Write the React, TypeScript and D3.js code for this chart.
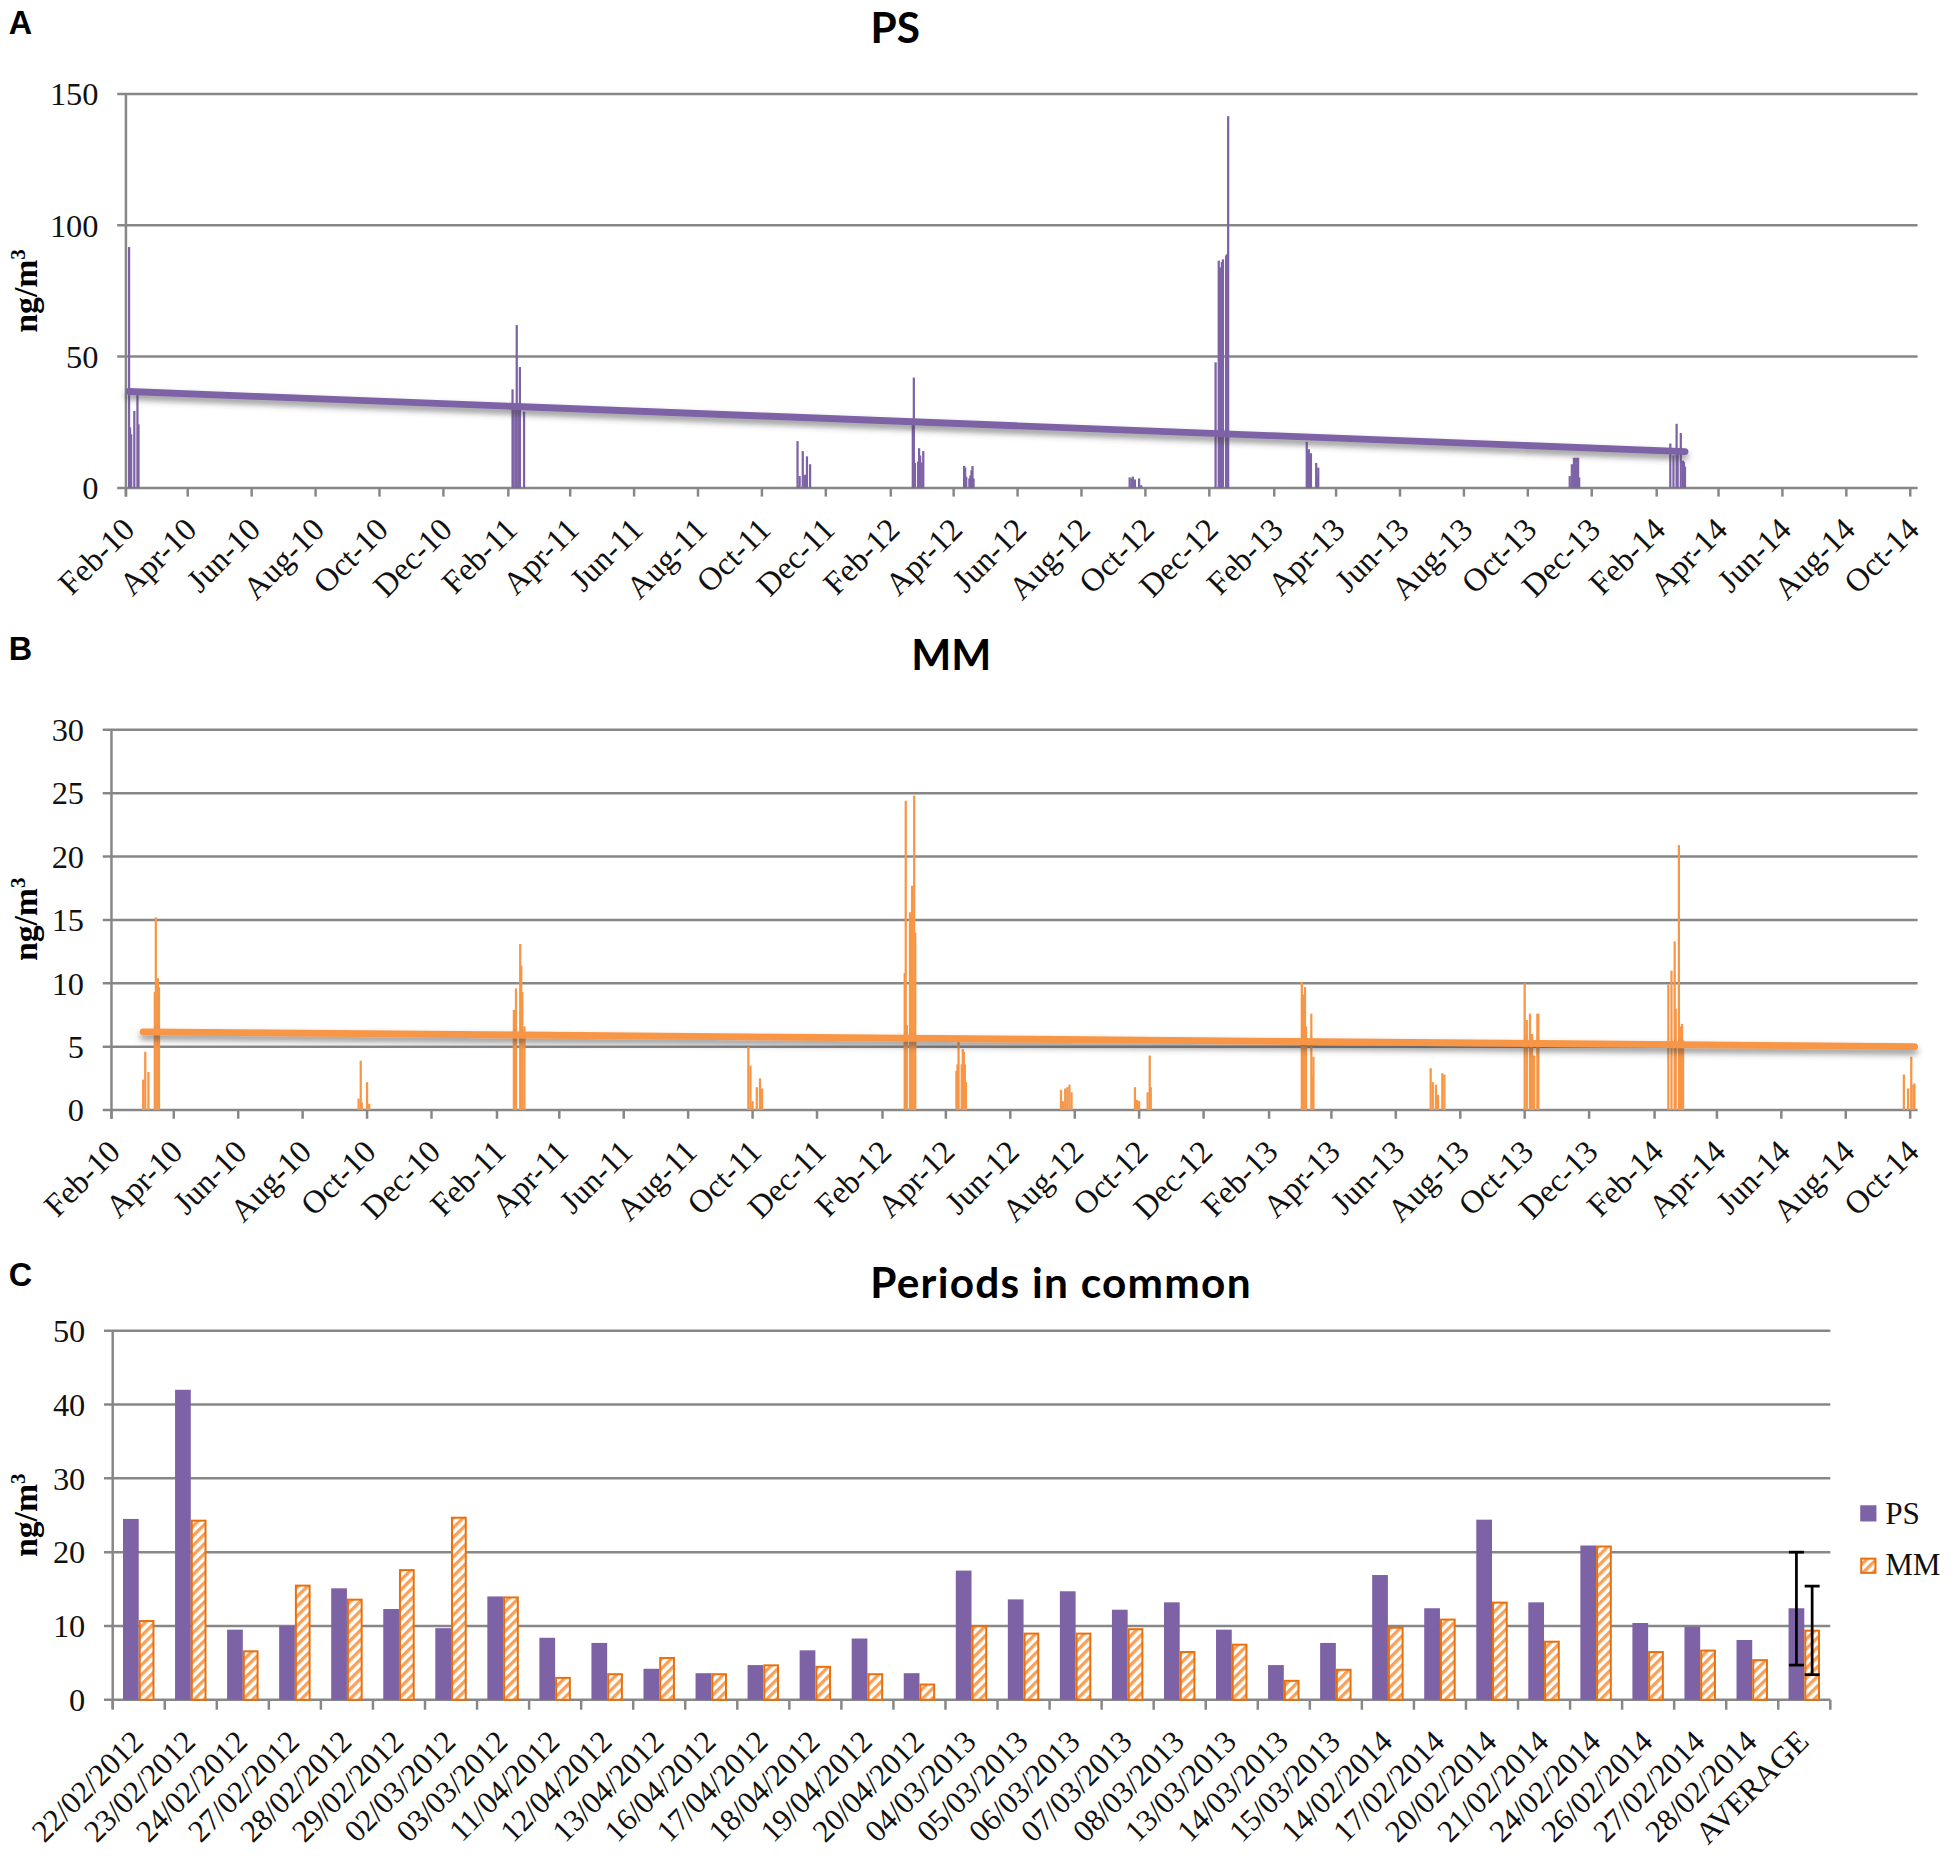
import React, { useEffect, useRef } from 'react';
import * as d3 from 'd3';

// ---- Panel A: PS daily samples (ng/m3) ----
const psDates = [
  '2010-02-04', '2010-02-05', '2010-02-06', '2010-02-09', '2010-02-12', '2010-02-13',
  '2011-02-05', '2011-02-06', '2011-02-08', '2011-02-09', '2011-02-11', '2011-02-12', '2011-02-16',
  '2011-11-04', '2011-11-06', '2011-11-09', '2011-11-11', '2011-11-13', '2011-11-16',
  '2012-02-22', '2012-02-23', '2012-02-24', '2012-02-27', '2012-02-28', '2012-02-29', '2012-03-02', '2012-03-03',
  '2012-04-11', '2012-04-12', '2012-04-13', '2012-04-16', '2012-04-17', '2012-04-18', '2012-04-19', '2012-04-20',
  '2012-09-16', '2012-09-18', '2012-09-19', '2012-09-21', '2012-09-25', '2012-09-27',
  '2012-12-07', '2012-12-10', '2012-12-11', '2012-12-12', '2012-12-13', '2012-12-14', '2012-12-17', '2012-12-18', '2012-12-19',
  '2013-03-04', '2013-03-05', '2013-03-06', '2013-03-07', '2013-03-08', '2013-03-13', '2013-03-14', '2013-03-15',
  '2013-11-10', '2013-11-12', '2013-11-14', '2013-11-16', '2013-11-18', '2013-11-19',
  '2014-02-14', '2014-02-17', '2014-02-20', '2014-02-21', '2014-02-24', '2014-02-26', '2014-02-27', '2014-02-28',
];
const psValues = [
  91.7, 23, 20.4, 29.3, 35.5, 24.2,
  37.5, 30.5, 31, 62, 30, 46, 29,
  17.8, 4.5, 14, 5, 12, 9,
  24.5, 42, 9.5, 10, 15.1, 12.3, 9.7, 14.0,
  8.4, 7.7, 4.2, 3.6, 4.7, 6.7, 8.3, 3.6,
  4, 3.6, 4.3, 3.2, 3.6, 1,
  47.8, 86.5, 84, 83.5, 86, 87, 88.5, 89, 141.5,
  17.5, 13.6, 14.7, 12.2, 13.2, 9.5, 4.7, 7.7,
  4.5, 9, 11.5, 11.5, 11.5, 4,
  16.9, 12.4, 24.4, 13.2, 20.9, 10.4, 9.9, 8.1,
];
const psTrend = [36.7, 13.8]; // linear trendline at first / last sample

// ---- Panel B: MM daily samples (ng/m3) ----
const mmDates = [
  '2010-03-03', '2010-03-05', '2010-03-08', '2010-03-14', '2010-03-15', '2010-03-17', '2010-03-18',
  '2010-09-23', '2010-09-25', '2010-09-26', '2010-10-01', '2010-10-03',
  '2011-02-17', '2011-02-19', '2011-02-23', '2011-02-24', '2011-02-25', '2011-02-27',
  '2011-09-27', '2011-09-29', '2011-10-01', '2011-10-05', '2011-10-08', '2011-10-10',
  '2012-02-22', '2012-02-23', '2012-02-24', '2012-02-27', '2012-02-28', '2012-02-29', '2012-03-02', '2012-03-03',
  '2012-04-11', '2012-04-12', '2012-04-13', '2012-04-16', '2012-04-17', '2012-04-18', '2012-04-19', '2012-04-20',
  '2012-07-19', '2012-07-21', '2012-07-23', '2012-07-25', '2012-07-27', '2012-07-29',
  '2012-09-27', '2012-09-29', '2012-10-01', '2012-10-09', '2012-10-11', '2012-10-12',
  '2013-03-04', '2013-03-05', '2013-03-06', '2013-03-07', '2013-03-08', '2013-03-13', '2013-03-14', '2013-03-15',
  '2013-07-04', '2013-07-06', '2013-07-09', '2013-07-11', '2013-07-15', '2013-07-17',
  '2013-10-01', '2013-10-03', '2013-10-06', '2013-10-08', '2013-10-10', '2013-10-13', '2013-10-14',
  '2014-02-14', '2014-02-17', '2014-02-20', '2014-02-21', '2014-02-24', '2014-02-26', '2014-02-27', '2014-02-28',
  '2014-09-25', '2014-09-29', '2014-10-02', '2014-10-04', '2014-10-05',
];
const mmValues = [
  2.4, 4.6, 3.0, 9.3, 15.2, 10.4, 9.7,
  0.9, 3.9, 0.6, 2.2, 0.5,
  7.9, 9.6, 13.1, 11.4, 9.3, 6.6,
  5.0, 3.5, 0.7, 1.8, 2.5, 1.7,
  10.8, 24.4, 6.7, 15.6, 13.7, 17.7, 24.8, 14.0,
  3.1, 3.6, 5.8, 3.6, 4.8, 4.6, 3.6, 2.2,
  1.6, 0.7, 1.7, 1.8, 2.0, 1.4,
  1.8, 0.8, 0.7, 1.4, 4.3, 1.8,
  10.1, 9.1, 9.1, 9.7, 6.6, 7.6, 2.7, 4.2,
  3.3, 2.2, 2.0, 1.2, 2.9, 2.8,
  10.0, 7.1, 7.6, 6.0, 4.3, 7.6, 7.6,
  9.9, 11.0, 13.3, 8.0, 20.9, 6.6, 6.8, 5.5,
  2.8, 1.7, 4.2, 2.0, 2.1,
];
const mmTrend = [6.17, 5.0];

// ---- Panel C: periods in common ----
const commonLabels = [
  '22/02/2012', '23/02/2012', '24/02/2012', '27/02/2012', '28/02/2012', '29/02/2012', '02/03/2012', '03/03/2012',
  '11/04/2012', '12/04/2012', '13/04/2012', '16/04/2012', '17/04/2012', '18/04/2012', '19/04/2012', '20/04/2012',
  '04/03/2013', '05/03/2013', '06/03/2013', '07/03/2013', '08/03/2013', '13/03/2013', '14/03/2013', '15/03/2013',
  '14/02/2014', '17/02/2014', '20/02/2014', '21/02/2014', '24/02/2014', '26/02/2014', '27/02/2014', '28/02/2014',
  'AVERAGE',
];
const commonPS = [
  24.5, 42.0, 9.5, 10.0, 15.1, 12.3, 9.7, 14.0,
  8.4, 7.7, 4.2, 3.6, 4.7, 6.7, 8.3, 3.6,
  17.5, 13.6, 14.7, 12.2, 13.2, 9.5, 4.7, 7.7,
  16.9, 12.4, 24.4, 13.2, 20.9, 10.4, 9.9, 8.1,
  12.4,
];
const commonMM = [
  10.8, 24.4, 6.7, 15.6, 13.7, 17.7, 24.8, 14.0,
  3.1, 3.6, 5.8, 3.6, 4.8, 4.6, 3.6, 2.2,
  10.1, 9.1, 9.1, 9.7, 6.6, 7.6, 2.7, 4.2,
  9.9, 11.0, 13.3, 8.0, 20.9, 6.6, 6.8, 5.5,
  9.5,
];
const averageErrorPS = [4.7, 20.0];
const averageErrorMM = [3.4, 15.4];
const seriesNames = ['PS', 'MM'];

const PURPLE = '#7d63a6';
const ORANGE = '#f79646';
const ORANGE_DARK = '#e8700e';
const GRID = '#878787';
const SERIF = '"Liberation Serif", "Times New Roman", serif';
const TITLE_FONT = 'Lato, "Open Sans", sans-serif';

const W = 1564;
const H = 1488;

const App: React.FC = () => {
  const svgRef = useRef<SVGSVGElement>(null);

  useEffect(() => {
    if (!svgRef.current) return;
    const svg = d3.select(svgRef.current);
    svg.selectAll('*').remove();

    const defs = svg.append('defs');
    const hatch = defs
      .append('pattern')
      .attr('id', 'hatch')
      .attr('patternUnits', 'userSpaceOnUse')
      .attr('width', 5.5)
      .attr('height', 5.5)
      .attr('patternTransform', 'rotate(45)');
    hatch.append('rect').attr('width', 5.5).attr('height', 5.5).attr('fill', '#fff');
    hatch.append('rect').attr('width', 2.7).attr('height', 5.5).attr('fill', '#f6a25a');

    const shadow = defs
      .append('filter')
      .attr('id', 'shadow')
      .attr('x', '-5%')
      .attr('y', '-200%')
      .attr('width', '110%')
      .attr('height', '500%');
    shadow
      .append('feDropShadow')
      .attr('dx', 0)
      .attr('dy', 3.5)
      .attr('stdDeviation', 2.5)
      .attr('flood-color', '#444')
      .attr('flood-opacity', 0.6);

    svg.append('rect').attr('width', W).attr('height', H).attr('fill', '#fff');

    const parse = d3.timeParse('%Y-%m-%d');
    const fmt = d3.timeFormat('%b-%y');
    const monthTicks = d3.timeMonth.range(new Date(2010, 1, 1), new Date(2014, 9, 2), 2);

    const panelLetter = (t: string, y: number) =>
      svg
        .append('text')
        .attr('x', 7)
        .attr('y', y)
        .attr('font-family', '"Liberation Sans", Arial, sans-serif')
        .attr('font-weight', 700)
        .attr('font-size', 26)
        .text(t);

    const panelTitle = (t: string, x: number, y: number, spacing = 0) =>
      svg
        .append('text')
        .attr('x', x)
        .attr('y', y)
        .attr('text-anchor', 'middle')
        .attr('font-family', TITLE_FONT)
        .attr('font-weight', 700)
        .attr('font-size', 34)
        .attr('letter-spacing', spacing)
        .text(t);

    const yTitle = (cy: number) => {
      const t = svg
        .append('text')
        .attr('transform', `translate(30,${cy}) rotate(-90)`)
        .attr('text-anchor', 'middle')
        .attr('font-family', SERIF)
        .attr('font-weight', 700)
        .attr('font-size', 27);
      t.append('tspan').text('ng/m');
      t.append('tspan').attr('font-size', 17).attr('dy', -10).text('3');
    };

    const drawGrid = (
      y: d3.ScaleLinear<number, number>,
      ticks: number[],
      left: number,
      right: number
    ) => {
      ticks.forEach(t => {
        svg
          .append('line')
          .attr('x1', left - 7)
          .attr('x2', right)
          .attr('y1', y(t))
          .attr('y2', y(t))
          .attr('stroke', GRID)
          .attr('stroke-width', 2);
        svg
          .append('text')
          .attr('x', left - 22)
          .attr('y', y(t))
          .attr('dy', '0.35em')
          .attr('text-anchor', 'end')
          .attr('font-family', SERIF)
          .attr('font-size', 26)
          .attr('fill', '#111')
          .text(t);
      });
      svg
        .append('line')
        .attr('x1', left)
        .attr('x2', left)
        .attr('y1', y(ticks[ticks.length - 1]))
        .attr('y2', y(0) + 7)
        .attr('stroke', GRID)
        .attr('stroke-width', 2);
    };

    // ---- time panels A and B ----
    const timePanel = (
      dates: string[],
      values: number[],
      trend: number[],
      color: string,
      yMax: number,
      yStep: number,
      left: number,
      top: number,
      bottom: number
    ) => {
      const right = 1538;
      const x = d3
        .scaleTime()
        .domain([new Date(2010, 1, 1), new Date(2014, 9, 8)])
        .range([left, right]);
      const y = d3.scaleLinear().domain([0, yMax]).range([bottom, top]);
      drawGrid(y, d3.range(0, yMax + yStep / 2, yStep), left, right);

      monthTicks.forEach(m => {
        svg
          .append('line')
          .attr('x1', x(m))
          .attr('x2', x(m))
          .attr('y1', bottom)
          .attr('y2', bottom + 7)
          .attr('stroke', GRID)
          .attr('stroke-width', 2);
        svg
          .append('text')
          .attr('transform', `translate(${x(m) + 8.5},${bottom + 35}) rotate(-45)`)
          .attr('text-anchor', 'end')
          .attr('font-family', SERIF)
          .attr('font-size', 26)
          .attr('fill', '#111')
          .text(fmt(m));
      });

      const parsed = dates.map(d => parse(d) as Date);
      parsed.forEach((d, i) => {
        svg
          .append('rect')
          .attr('x', x(d) - 0.9)
          .attr('width', 1.8)
          .attr('y', y(values[i]))
          .attr('height', bottom - y(values[i]))
          .attr('fill', color);
      });

      const ends = [parsed[0], parsed[parsed.length - 1]];
      svg
        .append('path')
        .datum(ends.map((d, i) => [x(d), y(trend[i])] as [number, number]))
        .attr('d', d3.line())
        .attr('stroke', color)
        .attr('stroke-width', 5.5)
        .attr('stroke-linecap', 'round')
        .attr('fill', 'none')
        .attr('filter', 'url(#shadow)');
    };

    panelLetter('A', 27);
    panelTitle('PS', 718, 34);
    yTitle(233);
    timePanel(psDates, psValues, psTrend, PURPLE, 150, 50, 101, 75, 391);

    panelLetter('B', 529);
    panelTitle('MM', 763, 537);
    yTitle(737);
    timePanel(mmDates, mmValues, mmTrend, ORANGE, 30, 5, 89.4, 585, 890);

    // ---- panel C ----
    panelLetter('C', 1031);
    panelTitle('Periods in common', 851, 1041, 1);
    yTitle(1215);

    const cLeft = 90.4;
    const cRight = 1468;
    const cBottom = 1363;
    const x0 = d3.scaleBand().domain(commonLabels).range([cLeft, cRight]);
    const x1 = d3
      .scaleBand()
      .domain(seriesNames)
      .range([0, x0.bandwidth()])
      .paddingOuter(0.655);
    const yc = d3.scaleLinear().domain([0, 50]).range([cBottom, 1067]);
    drawGrid(yc, d3.range(0, 51, 10), cLeft, cRight);

    d3.range(commonLabels.length + 1).forEach(i => {
      const tx = cLeft + i * x0.step();
      svg
        .append('line')
        .attr('x1', tx)
        .attr('x2', tx)
        .attr('y1', cBottom)
        .attr('y2', cBottom + 8)
        .attr('stroke', GRID)
        .attr('stroke-width', 2);
    });

    commonLabels.forEach((lab, i) => {
      const bx = x0(lab) as number;
      svg
        .append('rect')
        .attr('x', bx + (x1('PS') as number))
        .attr('width', x1.bandwidth())
        .attr('y', yc(commonPS[i]))
        .attr('height', cBottom - yc(commonPS[i]))
        .attr('fill', PURPLE);
      svg
        .append('rect')
        .attr('x', bx + (x1('MM') as number) + 0.8)
        .attr('width', x1.bandwidth() - 1.6)
        .attr('y', yc(commonMM[i]) + 0.8)
        .attr('height', cBottom - yc(commonMM[i]) - 0.8)
        .attr('fill', 'url(#hatch)')
        .attr('stroke', ORANGE_DARK)
        .attr('stroke-width', 1.6);
      const cx = bx + x0.bandwidth() / 2;
      svg
        .append('text')
        .attr('transform', `translate(${cx + 5},${cBottom + 35}) rotate(-45)`)
        .attr('text-anchor', 'end')
        .attr('font-family', SERIF)
        .attr('font-size', 25)
        .attr('fill', '#111')
        .text(lab);
    });

    // error bars on AVERAGE
    const avgX = x0('AVERAGE') as number;
    [
      { s: 'PS', e: averageErrorPS },
      { s: 'MM', e: averageErrorMM },
    ].forEach(({ s, e }) => {
      const ex = avgX + (x1(s) as number) + x1.bandwidth() / 2;
      const g = svg.append('g').attr('stroke', '#000').attr('stroke-width', 2.2);
      g.append('line').attr('x1', ex).attr('x2', ex).attr('y1', yc(e[0])).attr('y2', yc(e[1]));
      e.forEach(v => {
        g.append('line')
          .attr('x1', ex - 6)
          .attr('x2', ex + 6)
          .attr('y1', yc(v))
          .attr('y2', yc(v));
      });
    });

    // legend
    const legend = svg.append('g').attr('transform', 'translate(1492,1207)');
    legend.append('rect').attr('width', 13).attr('height', 13).attr('fill', PURPLE);
    legend
      .append('rect')
      .attr('x', 0.8)
      .attr('y', 42.8)
      .attr('width', 11.4)
      .attr('height', 11.4)
      .attr('fill', 'url(#hatch)')
      .attr('stroke', ORANGE_DARK)
      .attr('stroke-width', 1.6);
    seriesNames.forEach((n, i) => {
      legend
        .append('text')
        .attr('x', 20)
        .attr('y', 15 + i * 41)
        .attr('font-family', SERIF)
        .attr('font-size', 25)
        .attr('fill', '#111')
        .text(n);
    });
  }, []);

  return (
    <svg
      ref={svgRef}
      width={1950}
      height={1856}
      viewBox={`0 0 ${W} ${H}`}
      style={{ position: 'absolute', left: 0, top: 0, background: '#fff' }}
      role="img"
      aria-label="PS and MM concentrations over time and in common periods"
    />
  );
};

export default App;
